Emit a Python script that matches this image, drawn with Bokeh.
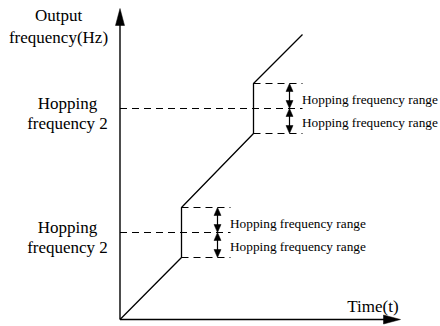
from bokeh.plotting import figure
from bokeh.models import Range1d
from bokeh.core.properties import value
from bokeh.embed import file_html
from bokeh.resources import INLINE

# ---- data ----
time_pts = [0, 61.5, 61.5, 133.5, 133.5, 182.5]
freq_pts = [0, 62, 112, 186, 236, 285]
hop_times = [61.5, 133.5]
hop_freqs = [87, 211]
hop_half_range = 25
hop_dash_len = 49
time_axis_end = 280.5
freq_axis_end = 311
y_label = ["Output", "frequency(Hz)"]
hop_label = ["Hopping", "frequency 2"]
range_label = "Hopping frequency range"
x_label = "Time(t)"

FONT = value("Liberation Serif")
YS = 1.0  # px per y unit

p = figure(width=440, height=326, x_range=Range1d(-119.5, 320.5),
           y_range=Range1d(-7.0, 319.0), output_backend="svg",
           toolbar_location=None, min_border=0)
p.axis.visible = False
p.grid.visible = False
p.outline_line_color = None
p.background_fill_color = "white"

def tri(xs_, ys_, tip_x, tip_y, dx, dy, L, W):
    bx = tip_x - dx * L
    by = tip_y - dy * L / YS
    px, py = -dy, dx
    xs_.append([tip_x, bx + px * W / 2, bx - px * W / 2])
    ys_.append([tip_y, by + py * W / 2 / YS, by - py * W / 2 / YS])

hx, hy = [], []
# axes
p.line([0, 0], [0, freq_axis_end - 12], line_color="black", line_width=1.4)
p.line([0, time_axis_end - 12], [0, 0], line_color="black", line_width=1.4)
tri(hx, hy, 0, freq_axis_end, 0, 1, 17, 9)
tri(hx, hy, time_axis_end, 0, 1, 0, 17, 9)

# frequency curve
p.line(time_pts, freq_pts, line_color="black", line_width=1.3)

for ht, hf in zip(hop_times, hop_freqs):
    xe = ht + hop_dash_len
    p.line([0, xe], [hf, hf], line_color="black", line_width=1.2, line_dash="7 5")
    for yy in (hf - hop_half_range, hf + hop_half_range):
        p.line([ht, xe], [yy, yy], line_color="black", line_width=1.2, line_dash="7 5")
    ax = ht + 36
    for y0, y1 in ((hf, hf + hop_half_range), (hf - hop_half_range, hf)):
        p.line([ax, ax], [y0 + 5, y1 - 5], line_color="black", line_width=1.2)
        tri(hx, hy, ax, y1, 0, 1, 8, 7)
        tri(hx, hy, ax, y0, 0, -1, 8, 7)
    # range labels
    p.text([ht + 48.5, ht + 48.5], [hf + 9.5, hf - 14], text=[range_label, range_label],
           text_font=FONT, text_font_size="13.3px", text_color="black",
           text_align="left", text_baseline="alphabetic")
    # left labels
    p.text([-52.5, -52.5], [hf + 5.5, hf - 15], text=hop_label,
           text_font=FONT, text_font_size="17px", text_color="black",
           text_align="center", text_baseline="alphabetic")

p.patches(hx, hy, fill_color="black", line_color="black", line_width=0.5)

p.text([-61.5, -61.5], [304.5, 282.5], text=y_label, text_font=FONT,
       text_font_size="17px", text_color="black", text_align="center",
       text_baseline="alphabetic")
p.text([253], [13], text=[x_label], text_font=FONT, text_font_size="17px",
       text_color="black", text_align="center", text_baseline="alphabetic")

open("out.html", "w").write(file_html(p, INLINE))
